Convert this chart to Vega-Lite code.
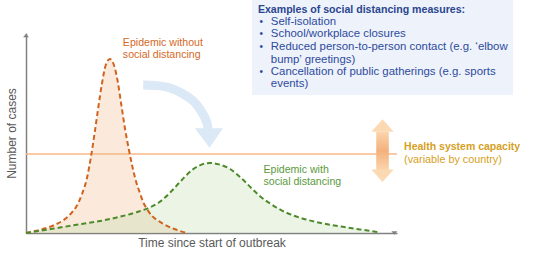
{
  "$schema": "https://vega.github.io/schema/vega-lite/v6.json",
  "width": 371,
  "height": 200,
  "autosize": {"type": "none"},
  "padding": {"left": 26, "top": 33, "right": 143, "bottom": 26},
  "background": "white",
  "config": {"view": {"stroke": null}, "font": "Liberation Sans"},
  "datasets": {
    "curves": [
      {"s": "without", "x": 0, "y": 0}, {"s": "without", "x": 2, "y": 0.8}, {"s": "without", "x": 4, "y": 1.7},
      {"s": "without", "x": 6, "y": 2.8}, {"s": "without", "x": 8, "y": 4.3}, {"s": "without", "x": 10, "y": 6.3},
      {"s": "without", "x": 12, "y": 9.5}, {"s": "without", "x": 13.5, "y": 13}, {"s": "without", "x": 15, "y": 19},
      {"s": "without", "x": 16.5, "y": 28}, {"s": "without", "x": 17.5, "y": 38}, {"s": "without", "x": 18.5, "y": 50},
      {"s": "without", "x": 19.5, "y": 63}, {"s": "without", "x": 20.5, "y": 75}, {"s": "without", "x": 21.5, "y": 84},
      {"s": "without", "x": 22.6, "y": 87}, {"s": "without", "x": 23.7, "y": 84}, {"s": "without", "x": 24.7, "y": 76},
      {"s": "without", "x": 25.7, "y": 64}, {"s": "without", "x": 26.7, "y": 52}, {"s": "without", "x": 27.7, "y": 42},
      {"s": "without", "x": 28.7, "y": 33}, {"s": "without", "x": 29.7, "y": 25.5}, {"s": "without", "x": 30.7, "y": 20},
      {"s": "without", "x": 31.7, "y": 15}, {"s": "without", "x": 32.6, "y": 12}, {"s": "without", "x": 34, "y": 8.5},
      {"s": "without", "x": 36, "y": 5.7}, {"s": "without", "x": 38, "y": 3.6}, {"s": "without", "x": 40, "y": 2},
      {"s": "without", "x": 42, "y": 0.7}, {"s": "without", "x": 43.4, "y": 0},
      {"s": "with", "x": 0, "y": 0}, {"s": "with", "x": 5, "y": 1.5}, {"s": "with", "x": 10, "y": 3},
      {"s": "with", "x": 15, "y": 4.5}, {"s": "with", "x": 20, "y": 6}, {"s": "with", "x": 25, "y": 8},
      {"s": "with", "x": 30, "y": 10.5}, {"s": "with", "x": 33, "y": 12.5}, {"s": "with", "x": 36, "y": 15.5},
      {"s": "with", "x": 39, "y": 20.5}, {"s": "with", "x": 42, "y": 26.5}, {"s": "with", "x": 45, "y": 31.8},
      {"s": "with", "x": 47.5, "y": 34.3}, {"s": "with", "x": 49.6, "y": 35}, {"s": "with", "x": 52, "y": 34.3},
      {"s": "with", "x": 55, "y": 32}, {"s": "with", "x": 58, "y": 27.5}, {"s": "with", "x": 61, "y": 22},
      {"s": "with", "x": 63, "y": 18.5}, {"s": "with", "x": 66, "y": 14.5}, {"s": "with", "x": 69, "y": 11.2},
      {"s": "with", "x": 72, "y": 8.8}, {"s": "with", "x": 76, "y": 6.5}, {"s": "with", "x": 80, "y": 4.8},
      {"s": "with", "x": 85, "y": 3.2}, {"s": "with", "x": 90, "y": 1.8}, {"s": "with", "x": 95, "y": 0.4}
    ],
    "box": [{"x": 60.9, "x2": 131.3, "y": 116.5, "y2": 69}],
    "capacity": [{"x": 0, "x2": 100, "y": 39.5}],
    "bluearrow": [
      {"x": 31.6, "y": 74}, {"x": 34.9, "y": 73.75}, {"x": 38.4, "y": 72.75}, {"x": 41.9, "y": 70},
      {"x": 45.1, "y": 66}, {"x": 47.2, "y": 61}, {"x": 48.6, "y": 56}, {"x": 49.1, "y": 52}
    ],
    "bluehead": [{"x": 49.3, "y": 47.5}],
    "dshaft": [{"x": 94.4, "x2": 97.8, "y": 50.65, "y2": 31.5}],
    "dheads": [{"x": 96.1, "y": 53.75, "k": "up"}, {"x": 96.1, "y": 28.6, "k": "down"}],
    "axisheads": [{"x": 0, "y": 98.65, "k": "yaxis"}, {"x": 99.3, "y": 0, "k": "xaxis"}],
    "boxtitle": [{"x": 62.5, "y": 111.7, "text": "Examples of social distancing measures:"}],
    "bullets": [
      {"x": 63.4, "y": 105.6, "text": "•"}, {"x": 63.4, "y": 99.4, "text": "•"},
      {"x": 63.4, "y": 93, "text": "•"}, {"x": 63.4, "y": 80.5, "text": "•"}
    ],
    "boxitems": [
      {"x": 66, "y": 105.6, "text": "Self-isolation"},
      {"x": 66, "y": 99.4, "text": "School/workplace closures"},
      {"x": 66, "y": 93, "text": "Reduced person-to-person contact (e.g. ‘elbow"},
      {"x": 66, "y": 86.7, "text": "bump’ greetings)"},
      {"x": 66, "y": 80.5, "text": "Cancellation of public gatherings (e.g. sports"},
      {"x": 66, "y": 74.4, "text": "events)"}
    ],
    "orangelabel": [
      {"x": 26.1, "y": 95.15, "text": "Epidemic without"},
      {"x": 26.1, "y": 89, "text": "social distancing"}
    ],
    "greenlabel": [
      {"x": 64, "y": 31.5, "text": "Epidemic with"},
      {"x": 64, "y": 25.65, "text": "social distancing"}
    ],
    "healthbold": [{"x": 101.9, "y": 43.15, "text": "Health system capacity"}],
    "healthnote": [{"x": 101.9, "y": 36.5, "text": "(variable by country)"}]
  },
  "encoding": {
    "x": {
      "field": "x", "type": "quantitative",
      "scale": {"domain": [0, 100], "nice": false, "zero": false},
      "axis": {
        "title": "Time since start of outbreak", "domainColor": "#808080", "domainWidth": 1.5,
        "ticks": false, "labels": false, "grid": false, "titleFont": "Liberation Sans",
        "titleFontSize": 12, "titleFontWeight": "normal", "titleColor": "#595959", "titlePadding": 4
      }
    },
    "y": {
      "field": "y", "type": "quantitative",
      "scale": {"domain": [0, 100], "nice": false, "zero": false},
      "axis": {
        "title": "Number of cases", "domainColor": "#808080", "domainWidth": 1.5,
        "ticks": false, "labels": false, "grid": false, "titleFont": "Liberation Sans",
        "titleFontSize": 12, "titleFontWeight": "normal", "titleColor": "#595959", "titlePadding": 8
      }
    }
  },
  "layer": [
    {
      "data": {"name": "box"},
      "mark": {"type": "rect", "fill": "#edf2fb"},
      "encoding": {"x2": {"field": "x2"}, "y2": {"field": "y2"}}
    },
    {
      "data": {"name": "curves"},
      "transform": [{"filter": "datum.s == 'without'"}],
      "mark": {"type": "area", "interpolate": "monotone", "color": "#f6c9a6", "opacity": 0.4}
    },
    {
      "data": {"name": "curves"},
      "transform": [{"filter": "datum.s == 'with'"}],
      "mark": {"type": "area", "interpolate": "monotone", "color": "#c6e0b4", "opacity": 0.35}
    },
    {
      "data": {"name": "capacity"},
      "mark": {"type": "rule", "color": "#f6b887", "strokeWidth": 1.5},
      "encoding": {"x2": {"field": "x2"}}
    },
    {
      "data": {"name": "curves"},
      "transform": [{"filter": "datum.s == 'without'"}],
      "mark": {"type": "line", "interpolate": "monotone", "color": "#d0641e", "strokeWidth": 2, "strokeDash": [5, 3]}
    },
    {
      "data": {"name": "curves"},
      "transform": [{"filter": "datum.s == 'with'"}],
      "mark": {"type": "line", "interpolate": "monotone", "color": "#4d8a2c", "strokeWidth": 2, "strokeDash": [5, 3]}
    },
    {
      "data": {"name": "bluearrow"},
      "mark": {"type": "line", "interpolate": "cardinal", "color": "#dbe8f5", "strokeWidth": 9, "strokeCap": "butt"}
    },
    {
      "data": {"name": "bluehead"},
      "mark": {"type": "point", "shape": "M-1,-0.69L1,-0.69L0.05,0.69Z", "size": 784, "filled": true, "color": "#dbe8f5", "opacity": 1}
    },
    {
      "data": {"name": "dshaft"},
      "mark": {
        "type": "rect",
        "fill": {"gradient": "linear", "x1": 0, "y1": 0, "x2": 0, "y2": 1,
          "stops": [{"offset": 0, "color": "#fbd5ad"}, {"offset": 0.5, "color": "#f4b07c"}, {"offset": 1, "color": "#fbd5ad"}]}
      },
      "encoding": {"x2": {"field": "x2"}, "y2": {"field": "y2"}}
    },
    {
      "data": {"name": "dheads"},
      "mark": {"type": "point", "size": 497, "filled": true, "color": "#fbd9b3", "opacity": 1},
      "encoding": {
        "shape": {"field": "k", "type": "nominal", "legend": null,
          "scale": {"domain": ["up", "down"], "range": ["M0,-0.556L1,0.556L-1,0.556Z", "M-1,-0.556L1,-0.556L0,0.556Z"]}}
      }
    },
    {
      "data": {"name": "axisheads"},
      "mark": {"type": "point", "size": 36, "filled": true, "color": "#808080", "opacity": 1},
      "encoding": {
        "shape": {"field": "k", "type": "nominal", "legend": null,
          "scale": {"domain": ["yaxis", "xaxis"], "range": ["M0,-1L1,1L-1,1Z", "M1,0L-1,-1L-1,1Z"]}}
      }
    },
    {
      "data": {"name": "boxtitle"},
      "mark": {"type": "text", "align": "left", "baseline": "middle", "fontSize": 10.6, "fontWeight": "bold", "color": "#2a468f", "font": "Liberation Sans"},
      "encoding": {"text": {"field": "text"}}
    },
    {
      "data": {"name": "bullets"},
      "mark": {"type": "text", "align": "center", "baseline": "middle", "fontSize": 10, "color": "#2d4b9b", "font": "Liberation Sans"},
      "encoding": {"text": {"field": "text"}}
    },
    {
      "data": {"name": "boxitems"},
      "mark": {"type": "text", "align": "left", "baseline": "middle", "fontSize": 11.4, "color": "#2d4b9b", "font": "Liberation Sans"},
      "encoding": {"text": {"field": "text"}}
    },
    {
      "data": {"name": "orangelabel"},
      "mark": {"type": "text", "align": "left", "baseline": "middle", "fontSize": 10.6, "color": "#d4691f", "font": "Liberation Sans"},
      "encoding": {"text": {"field": "text"}}
    },
    {
      "data": {"name": "greenlabel"},
      "mark": {"type": "text", "align": "left", "baseline": "middle", "fontSize": 10.6, "color": "#5b9a3c", "font": "Liberation Sans"},
      "encoding": {"text": {"field": "text"}}
    },
    {
      "data": {"name": "healthbold"},
      "mark": {"type": "text", "align": "left", "baseline": "middle", "fontSize": 10.5, "fontWeight": "bold", "color": "#d6a024", "font": "Liberation Sans"},
      "encoding": {"text": {"field": "text"}}
    },
    {
      "data": {"name": "healthnote"},
      "mark": {"type": "text", "align": "left", "baseline": "middle", "fontSize": 10.8, "color": "#d6a024", "font": "Liberation Sans"},
      "encoding": {"text": {"field": "text"}}
    }
  ]
}
